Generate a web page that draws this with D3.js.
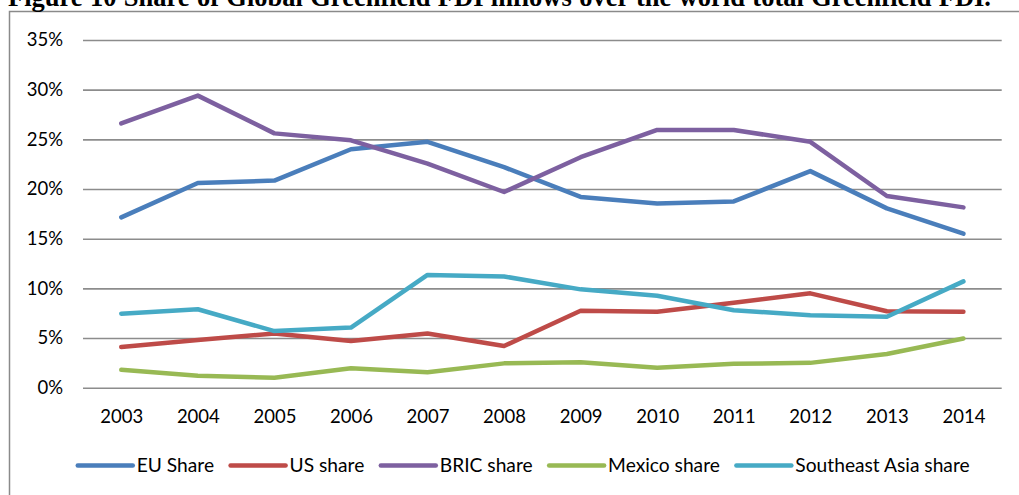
<!DOCTYPE html>
<html>
<head>
<meta charset="utf-8">
<script src="https://cdn.jsdelivr.net/npm/d3@7"></script>
<style>
  html, body { margin: 0; padding: 0; background: #ffffff; }
  svg { display: block; }
</style>
</head>
<body>
<svg id="chart" width="1019" height="495"></svg>
<script>
const titleText = "Figure 10 Share of Global Greenfield FDI inflows over the world total Greenfield FDI.";
const years = ["2003","2004","2005","2006","2007","2008","2009","2010","2011","2012","2013","2014"];
const yTicks = [0, 5, 10, 15, 20, 25, 30, 35];
const seriesNames = ["EU Share", "US share", "BRIC share", "Mexico share", "Southeast Asia share"];
const seriesColors = ["#4A7EBB", "#BE4B48", "#7D60A0", "#98B954", "#46AAC5"];
const euShare     = [17.15, 20.6, 20.85, 24.0, 24.75, 22.2, 19.2, 18.55, 18.75, 21.8, 18.05, 15.5];
const usShare     = [4.1, 4.8, 5.45, 4.7, 5.45, 4.2, 7.75, 7.65, 8.55, 9.5, 7.7, 7.65];
const bricShare   = [26.6, 29.4, 25.6, 24.9, 22.55, 19.7, 23.2, 25.95, 25.95, 24.75, 19.3, 18.15];
const mexicoShare = [1.8, 1.2, 1.0, 1.95, 1.55, 2.45, 2.55, 2.0, 2.4, 2.5, 3.4, 4.95];
const seAsiaShare = [7.45, 7.9, 5.7, 6.05, 11.35, 11.2, 9.9, 9.25, 7.8, 7.3, 7.15, 10.7];

const seriesValues = [euShare, usShare, bricShare, mexicoShare, seAsiaShare];
const series = seriesNames.map((name, i) => ({ name, color: seriesColors[i], values: seriesValues[i] }));

const svg = d3.select("#chart");
const font = "Lato, 'Open Sans', sans-serif";

// Outer chart frame (extends past right and bottom edges)
svg.append("rect")
  .attr("x", 9.5).attr("y", 11.5)
  .attr("width", 1100).attr("height", 600)
  .attr("fill", "none").attr("stroke", "#8a8a8a").attr("stroke-width", 1.5);

// Title (partially cut off at top)
const title = svg.append("text")
  .attr("x", 8).attr("y", 6)
  .attr("font-family", "'Liberation Serif', 'Times New Roman', serif")
  .attr("font-weight", "bold")
  .attr("font-size", 26.5)
  .attr("fill", "#000")
  .text(titleText);
{
  const natural = title.node().getComputedTextLength();
  const spaces = (titleText.match(/ /g) || []).length;
  const extra = (983 - natural) / spaces;
  title.style("word-spacing", extra + "px");
}

const plotLeft = 83, plotRight = 1001.7, plotTop = 40, plotBottom = 387.7;

const x = d3.scalePoint().domain(years).range([plotLeft, plotRight]).padding(0.5);
const y = d3.scaleLinear().domain([0, 35]).range([plotBottom, plotTop]);

// Gridlines
const grid = svg.append("g").attr("transform", `translate(${plotLeft},0)`)
  .call(d3.axisLeft(y).tickValues(yTicks).tickSize(-(plotRight - plotLeft)).tickFormat(""));
grid.select(".domain").remove();
grid.selectAll(".tick line").attr("stroke", "#8c8c8c").attr("stroke-width", 1.6);

// Y axis labels
const yAxis = svg.append("g").attr("transform", `translate(${plotLeft},0)`)
  .call(d3.axisLeft(y).tickValues(yTicks).tickSize(0).tickPadding(20).tickFormat(d => d + "%"));
yAxis.select(".domain").remove();
yAxis.selectAll("text").attr("font-family", font).attr("font-size", 18.5).attr("fill", "#000");

// X axis labels
const xAxis = svg.append("g").attr("transform", `translate(0,${plotBottom})`)
  .call(d3.axisBottom(x).tickSize(0));
xAxis.select(".domain").remove();
xAxis.selectAll("text")
  .attr("font-family", font).attr("font-size", 18.5).attr("fill", "#000")
  .attr("dy", null).attr("y", 35);

// Lines
const line = d3.line()
  .x((d, i) => x(years[i]))
  .y(d => y(d));

svg.append("g").selectAll("path")
  .data(series)
  .join("path")
  .attr("d", d => line(d.values))
  .attr("fill", "none")
  .attr("stroke", d => d.color)
  .attr("stroke-width", 4.5)
  .attr("stroke-linecap", "round")
  .attr("stroke-linejoin", "round");

// Legend
const legend = svg.append("g");
const legendY = 465.5, lineLen = 55, textGap = 4, itemGap = 16.5;
const items = legend.selectAll("g").data(series).join("g");
items.append("line")
  .attr("x1", 0).attr("x2", lineLen)
  .attr("y1", 0).attr("y2", 0)
  .attr("stroke", d => d.color).attr("stroke-width", 4.5).attr("stroke-linecap", "round");
items.append("text")
  .attr("x", lineLen + textGap).attr("y", 0).attr("dy", "0.35em")
  .attr("font-family", font).attr("font-size", 19.2).attr("fill", "#000")
  .text(d => d.name);
let widths = [];
items.each(function() { widths.push(d3.select(this).select("text").node().getComputedTextLength()); });
const total = widths.reduce((a, w) => a + lineLen + textGap + w, 0) + itemGap * (widths.length - 1);
let cx = 523.7 - total / 2;
items.each(function(d, i) {
  d3.select(this).attr("transform", `translate(${cx},${legendY})`);
  cx += lineLen + textGap + widths[i] + itemGap;
});
</script>
</body>
</html>
